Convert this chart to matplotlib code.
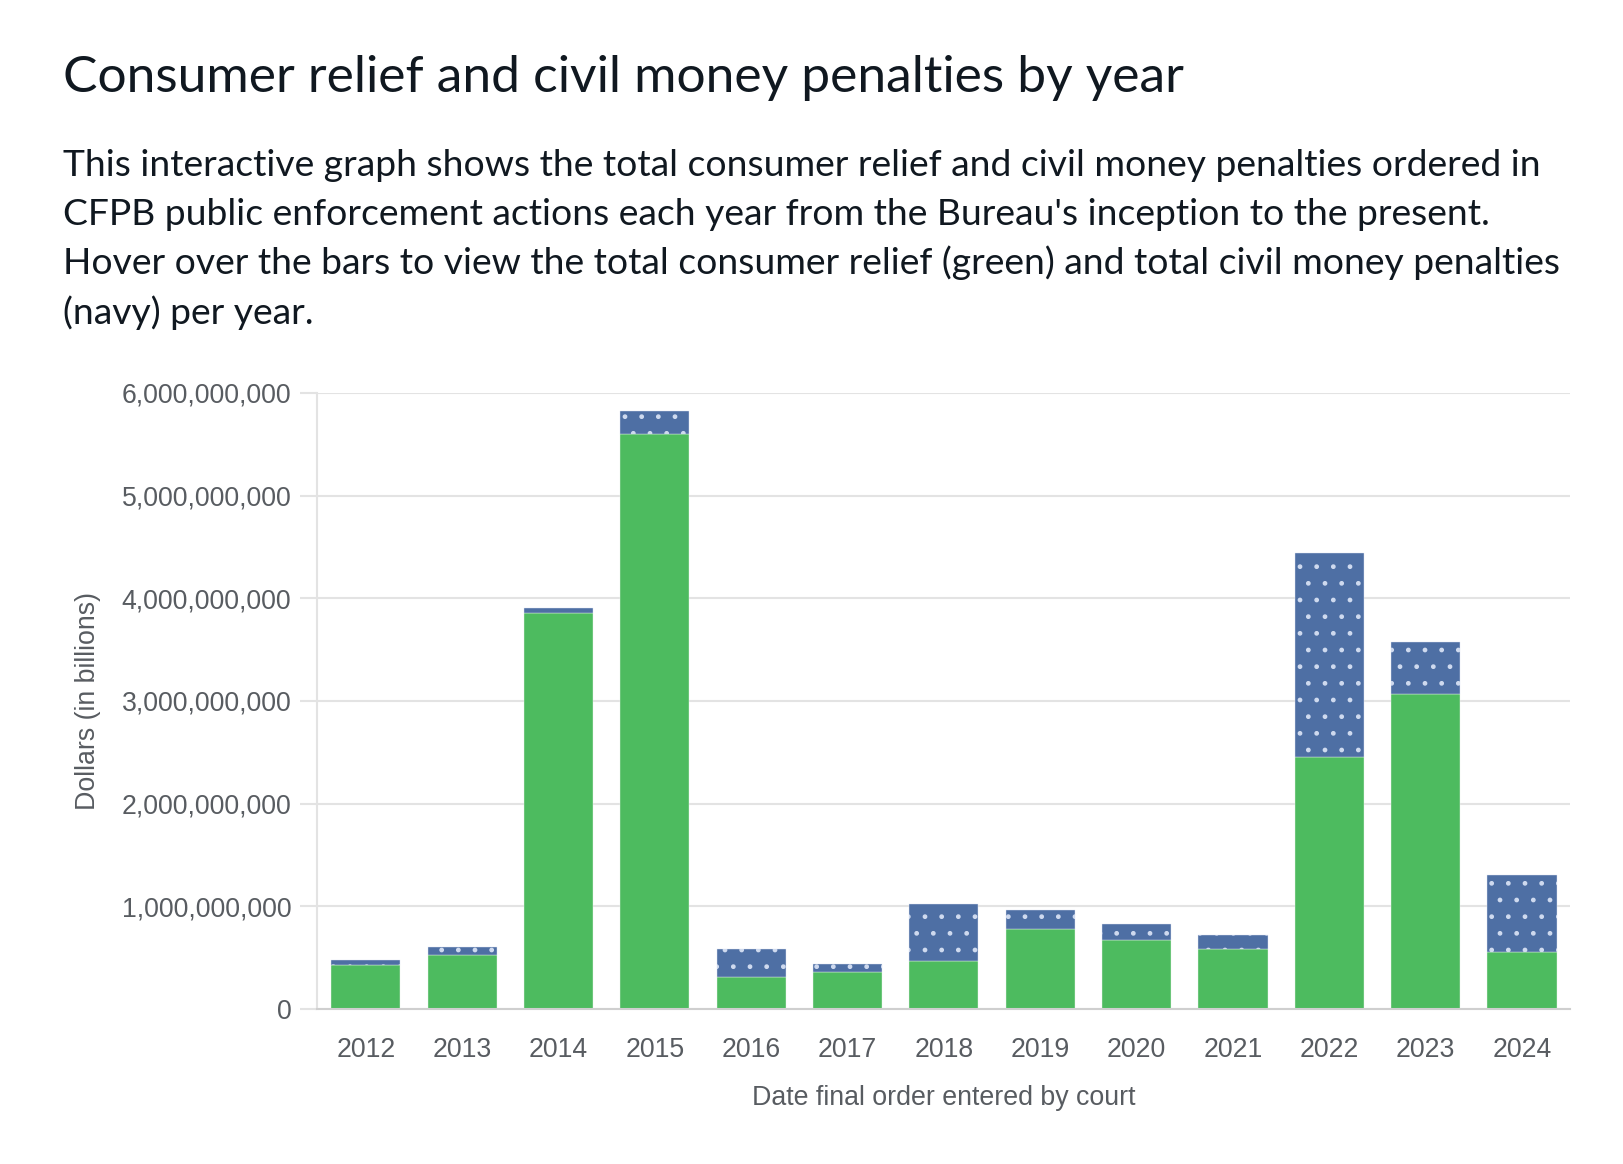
import numpy as np
import matplotlib
matplotlib.use("Agg")
import matplotlib.pyplot as plt
from matplotlib.ticker import FuncFormatter

# values, in billions of dollars
years = ["2012", "2013", "2014", "2015", "2016", "2017", "2018",
         "2019", "2020", "2021", "2022", "2023", "2024"]
relief = [0.427, 0.527, 3.855, 5.60, 0.310, 0.356, 0.466,
          0.783, 0.675, 0.582, 2.45, 3.07, 0.552]
penalties = [0.049, 0.073, 0.055, 0.22, 0.279, 0.081, 0.554,
             0.185, 0.151, 0.135, 1.99, 0.50, 0.757]

title = "Consumer relief and civil money penalties by year"
body = ["This interactive graph shows the total consumer relief and civil money penalties ordered in",
        "CFPB public enforcement actions each year from the Bureau's inception to the present.",
        "Hover over the bars to view the total consumer relief (green) and total civil money penalties",
        "(navy) per year."]
xlabel = "Date final order entered by court"
ylabel = "Dollars (in billions)"

GREEN = "#4dbb5f"
NAVY = "#4e6fa4"
DOTS = "#cfdaef"
GRID = "#e3e3e3"
AXTXT = "#585c61"
INK = "#101820"

W, H = 1624, 1164
fig = plt.figure(figsize=(W / 100, H / 100), dpi=100)
plt.rcParams["hatch.linewidth"] = 1.0

# axes box in pixels: left 317, right 1570, top 393, bottom 1009
ax = fig.add_axes([317 / W, 1 - 1009 / H, (1570 - 317) / W, (1009 - 393) / H])

x = np.arange(len(years))
rel = np.array(relief) * 1e9
pen = np.array(penalties) * 1e9

ax.bar(x, rel, width=0.718, color=GREEN, edgecolor="#e8f4ea", linewidth=0.3, zorder=2)
ax.bar(x, pen, bottom=rel, width=0.718, color=NAVY, edgecolor="#dfe6f2", linewidth=0.3, zorder=2)
# dotted pattern on the penalties
ax.bar(x, pen, bottom=rel, width=0.718, facecolor="none", edgecolor=DOTS,
       hatch=".", linewidth=0, zorder=3)

ax.set_xlim(-0.506, 12.498)
ax.set_ylim(0, 6e9)
ax.set_yticks(np.arange(0, 7e9, 1e9))
ax.yaxis.set_major_formatter(FuncFormatter(lambda v, p: f"{int(v):,}"))
ax.set_xticks(x)
ax.set_xticklabels(years)

ax.grid(axis="y", color=GRID, linewidth=1.5, zorder=0)
ax.set_axisbelow(True)
for s in ["top", "right"]:
    ax.spines[s].set_visible(False)
ax.spines["left"].set_color(GRID)
ax.spines["left"].set_linewidth(1.5)
ax.spines["bottom"].set_color("#cfcfcf")
ax.spines["bottom"].set_linewidth(1.5)

ax.tick_params(axis="y", length=12, width=1.5, color=GRID, pad=6.5,
               labelsize=19.2, labelcolor=AXTXT)
ax.tick_params(axis="x", length=0, pad=20, labelsize=19.2, labelcolor=AXTXT)
for lab in ax.get_xticklabels() + ax.get_yticklabels():
    lab.set_fontfamily("Liberation Sans")

fig.text(943.7 / W, 1 - 1105 / H, xlabel, ha="center", va="baseline",
         fontsize=19.3, color=AXTXT, family="Liberation Sans")
fig.text(88 / W, 1 - 701 / H, ylabel, ha="center", va="center", rotation=90,
         fontsize=19.3, color=AXTXT, family="Liberation Sans")

# title and intro text, sized to the widths in the picture
t = fig.text(62.7 / W, 1 - 92 / H, title, ha="left", va="baseline",
             fontsize=36, color=INK, family="Lato")
body_y = [176, 225, 274, 323.5]
lines = [fig.text(62.7 / W, 1 - yy / H, s, ha="left", va="baseline",
                  fontsize=25, color=INK, family="Lato")
         for s, yy in zip(body, body_y)]

r = fig.canvas.get_renderer()
t.set_fontsize(36 * 1121 / t.get_window_extent(r).width)
bs = 25 * 1480 / lines[0].get_window_extent(r).width
for ln in lines:
    ln.set_fontsize(bs)

fig.savefig("out.png", dpi=100, facecolor="white")
